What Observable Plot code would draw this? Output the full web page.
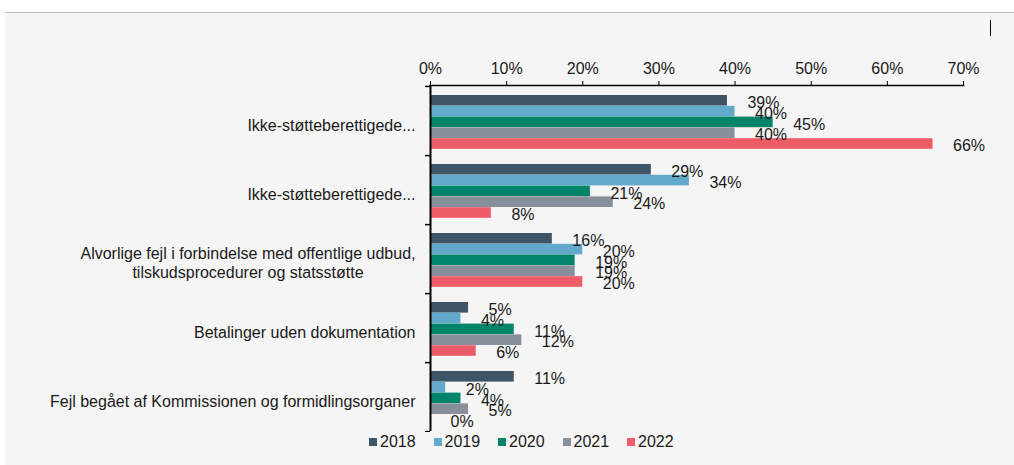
<!DOCTYPE html>
<html><head><meta charset="utf-8">
<script src="https://cdn.jsdelivr.net/npm/d3@7"></script>
<script src="https://cdn.jsdelivr.net/npm/@observablehq/plot@0.6"></script>
<style>
body{margin:0;background:#fff;font-family:"Liberation Sans",Arial,sans-serif;}
#bg{position:absolute;left:5px;top:12px;width:1009px;height:453px;background:#f5f5f5;border-top:1px solid #bdbdbd;}
#cursor{position:absolute;left:990px;top:20px;width:1px;height:16px;background:#000;}
#chart{position:absolute;left:0;top:0;}
#legend{position:absolute;left:369px;top:434px;display:flex;font-size:16px;color:#1a1a1a;line-height:16px;}
.item{width:64.5px;display:flex;align-items:center;}
.sw{width:8px;height:8px;margin-right:3px;}
</style></head>
<body><div id="bg"></div><div id="cursor"></div><div id="chart"></div><div id="legend"></div>
<script>
const categories = [
  "Ikke-støtteberettigede...",
  "Ikke-støtteberettigede...",
  "Alvorlige fejl i forbindelse med offentlige udbud,\ntilskudsprocedurer og statsstøtte",
  "Betalinger uden dokumentation",
  "Fejl begået af Kommissionen og formidlingsorganer"
];
const years = ["2018", "2019", "2020", "2021", "2022"];
const v2018 = [39, 29, 16, 5, 11];
const v2019 = [40, 34, 20, 4, 2];
const v2020 = [45, 21, 19, 11, 4];
const v2021 = [40, 24, 19, 12, 5];
const v2022 = [66, 8, 20, 6, 0];
const xTicks = [0, 10, 20, 30, 40, 50, 60, 70];
const colors = ["#3d5567", "#62a9cc", "#00856b", "#87909a", "#ee5d67"];

const series = [v2018, v2019, v2020, v2021, v2022];
const catIdx = categories.map((_, i) => i);
const data = [];
years.forEach((yr, j) => series[j].forEach((v, i) => data.push({cat: i, year: yr, value: v})));

const W = 1014, H = 432, mT = 85, mB = 1, mL = 430, mR = 51;
const bw = (H - mT - mB) / categories.length;
const barTop = 9, barH = 10.8;
const pxPerUnit = (W - mL - mR) / 70;

const marks = [];
years.forEach((yr, j) => {
  const d = data.filter(r => r.year === yr);
  marks.push(Plot.barX(d, {x: "value", y: "cat", fill: "year",
    insetTop: barTop + j * barH, insetBottom: bw - barTop - (j + 1) * barH}));
});
years.forEach((yr, j) => {
  const d = data.filter(r => r.year === yr);
  marks.push(Plot.text(d, {x: "value", y: "cat", text: r => r.value + "%",
    textAnchor: "start", dx: 20, dy: barTop + (j + 0.5) * barH - bw / 2 + 2,
    fontSize: 16, fill: "#1a1a1a"}));
});
marks.push(Plot.ruleX([0], {stroke: "#000", strokeWidth: 2}));
marks.push(Plot.frame({anchor: "top", stroke: "#000", strokeWidth: 1.5}));
marks.push(Plot.axisX({anchor: "top", ticks: xTicks, tickFormat: d => d + "%", label: null,
  tickSize: 5, tickPadding: 7, fontSize: 16, stroke: "#000", fill: "#1a1a1a"}));
marks.push(Plot.ruleY(catIdx, {y: d => d, x1: -5 / pxPerUnit, x2: 0, dy: bw / 2, stroke: "#000", strokeWidth: 1.5}));
marks.push(Plot.ruleY([0], {y: d => d, x1: -5 / pxPerUnit, x2: 0, dy: -bw / 2, stroke: "#000", strokeWidth: 1.5}));
marks.push(Plot.text(catIdx, {y: d => d, x: 0, text: d => categories[d], textAnchor: "end",
  dx: -15, dy: 3.5, fontSize: 16, lineHeight: 1.19, fill: "#1a1a1a"}));

const chart = Plot.plot({
  width: W, height: H,
  marginTop: mT, marginBottom: mB, marginLeft: mL, marginRight: mR,
  style: {background: "transparent", fontFamily: "'Liberation Sans', Arial, sans-serif", fontSize: "16px", color: "#1a1a1a"},
  x: {domain: [0, 70], axis: null},
  y: {type: "band", domain: catIdx, padding: 0, axis: null},
  color: {domain: years, range: colors},
  marks
});
document.getElementById("chart").appendChild(chart);

// center the shorter lines of multi-line category labels
chart.querySelectorAll("text").forEach(t => {
  const spans = t.querySelectorAll("tspan");
  if (spans.length > 1) {
    const ws = Array.from(spans).map(s => s.getComputedTextLength());
    const maxW = Math.max(...ws);
    spans.forEach((s, k) => {
      if (ws[k] < maxW) s.setAttribute("dx", -(maxW - ws[k]) / 2);
    });
  }
});

const legend = document.getElementById("legend");
years.forEach((yr, j) => {
  const it = document.createElement("div");
  it.className = "item";
  it.innerHTML = `<span class="sw" style="background:${colors[j]}"></span><span>${yr}</span>`;
  legend.appendChild(it);
});
</script>
</body></html>
